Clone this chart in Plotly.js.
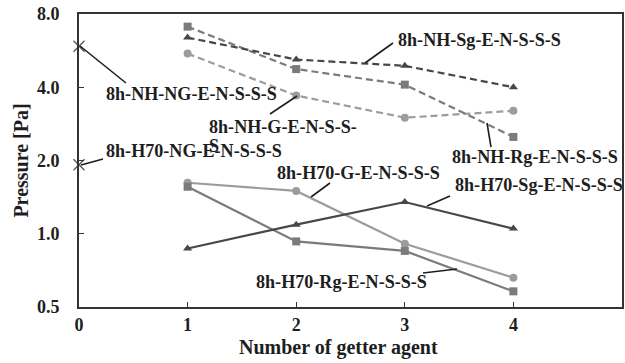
<!DOCTYPE html>
<html>
<head>
<meta charset="utf-8">
<script src="https://cdn.plot.ly/plotly-3.0.1.min.js"></script>
<style>
  html, body { margin: 0; padding: 0; background: #fff; }
  #chart { width: 625px; height: 363px; }
</style>
</head>
<body>
<div id="chart"></div>
<script>
// Number of getter agents (x) and chamber pressure in Pa (y)
const agents = [1, 2, 3, 4];
const nhSg  = [6.4, 5.2, 4.9, 4.0];
const nhRg  = [7.1, 4.75, 4.1, 2.5];
const nhG   = [5.5, 3.7, 3.0, 3.2];
const h70Sg = [0.87, 1.09, 1.35, 1.05];
const h70Rg = [1.56, 0.93, 0.85, 0.58];
const h70G  = [1.62, 1.5, 0.91, 0.66];
// Reference runs without getter (zero agents)
const noGetterX = [0];
const nhNg  = [5.9];
const h70Ng = [1.92];

const yTickVals = [0.5, 1, 2, 4, 8];
const yTickText = ["0.5", "1.0", "2.0", "4.0", "8.0"];
const xTickVals = [0, 1, 2, 3, 4, 5];
const xTickText = ["0", "1", "2", "3", "4", "5"];
const xTitle = "Number of getter agent";
const yTitle = "Pressure [Pa]";

const seriesLabels = {
  nhNg: "8h-NH-NG-E-N-S-S-S",
  h70Ng: "8h-H70-NG-E-N-S-S-S",
  nhG: "8h-NH-G-E-N-S-S-",
  nhSg: "8h-NH-Sg-E-N-S-S-S",
  nhRg: "8h-NH-Rg-E-N-S-S-S",
  h70G: "8h-H70-G-E-N-S-S-S",
  h70Sg: "8h-H70-Sg-E-N-S-S-S",
  h70Rg: "8h-H70-Rg-E-N-S-S-S"
};

const DARK = "#474747", MID = "#7b7b7b", LIGHT = "#9c9c9c";
const DASH = "7px,4px";

function series(name, x, y, color, symbol, dash) {
  return {
    type: "scatter", mode: "lines+markers", name: name, x: x, y: y,
    line: {color: color, width: 2.2, dash: dash},
    marker: {color: color, symbol: symbol, size: 8},
    showlegend: false, hoverinfo: "x+y"
  };
}

function noGetter(name, y) {
  return {
    type: "scatter", mode: "markers", name: name, x: noGetterX, y: y,
    marker: {symbol: "x-thin-open", size: 11, color: "#555", line: {color: "#555", width: 1.3}},
    showlegend: false, cliponaxis: false
  };
}

const traces = [
  series(seriesLabels.nhG, agents, nhG, LIGHT, "circle", DASH),
  series(seriesLabels.nhRg, agents, nhRg, MID, "square", DASH),
  series(seriesLabels.nhSg, agents, nhSg, DARK, "triangle-up", DASH),
  series(seriesLabels.h70G, agents, h70G, LIGHT, "circle", "solid"),
  series(seriesLabels.h70Rg, agents, h70Rg, MID, "square", "solid"),
  series(seriesLabels.h70Sg, agents, h70Sg, DARK, "triangle-up", "solid"),
  noGetter(seriesLabels.nhNg, nhNg),
  noGetter(seriesLabels.h70Ng, h70Ng)
];

// Plot box in pixels, used to place callouts in paper units
const L = 79, R = 622, T = 14, B = 307;
const px = v => (v - L) / (R - L);
const py = v => (B - v) / (B - T);

const SERIF = "Liberation Serif, Times New Roman, serif";
const labelFont = {family: SERIF, size: 18.1, color: "#1e1e1e", weight: 700};
const axisFont = {family: SERIF, size: 18, color: "#1e1e1e", weight: 700};
const titleFont = {family: SERIF, size: 20, color: "#1e1e1e", weight: 700};

function label(text, left, centerY) {
  return {text: text, xref: "paper", yref: "paper", x: px(left), y: py(centerY),
          xanchor: "left", yanchor: "middle", showarrow: false, font: labelFont};
}
function leader(x0, y0, x1, y1) {
  return {type: "line", xref: "paper", yref: "paper",
          x0: px(x0), y0: py(y0), x1: px(x1), y1: py(y1),
          line: {color: "#1e1e1e", width: 1.6}};
}

const annotations = [
  label(seriesLabels.nhNg, 104, 94),
  label(seriesLabels.h70Ng, 104, 151),
  label("S", 207, 146),
  label(seriesLabels.nhG, 207, 127),
  label(seriesLabels.nhSg, 396, 40),
  label(seriesLabels.nhRg, 450, 157),
  label(seriesLabels.h70G, 275, 173),
  label(seriesLabels.h70Sg, 453, 185),
  label(seriesLabels.h70Rg, 254, 282),
  // x-axis title, set just under the tick labels
  {text: xTitle, xref: "paper", yref: "paper", x: px(338), y: py(347),
   xanchor: "center", yanchor: "middle", showarrow: false, font: titleFont}
];

const shapes = [
  leader(80, 46, 126, 83),
  leader(81, 165, 103, 159),
  leader(270, 114, 297, 96),
  leader(365, 63, 393, 43),
  leader(491, 147, 487, 123),
  leader(311, 197, 330, 183),
  leader(427, 206, 450, 196),
  leader(423, 273, 457, 269)
];

const layout = {
  width: 625, height: 363,
  margin: {l: 79, r: 3, t: 14, b: 56},
  paper_bgcolor: "#fff", plot_bgcolor: "#fff",
  xaxis: {
    range: [0, 5], tickvals: xTickVals, ticktext: xTickText,
    ticks: "inside", ticklen: 5, tickwidth: 1.3, tickcolor: "#333",
    showline: true, linecolor: "#333", linewidth: 2, mirror: true,
    showgrid: false, zeroline: false, tickfont: axisFont,
    ticklabelstandoff: 0
  },
  yaxis: {
    type: "log", range: [Math.log10(0.5), Math.log10(8)],
    tickvals: yTickVals, ticktext: yTickText,
    ticks: "inside", ticklen: 5, tickwidth: 1.3, tickcolor: "#333",
    showline: true, linecolor: "#333", linewidth: 2, mirror: true,
    showgrid: false, zeroline: false, tickfont: axisFont,
    ticklabelstandoff: 14,
    title: {text: yTitle, font: titleFont, standoff: 3}
  },
  annotations: annotations,
  shapes: shapes
};

Plotly.newPlot("chart", traces, layout, {displayModeBar: false, staticPlot: true});
</script>
</body>
</html>
